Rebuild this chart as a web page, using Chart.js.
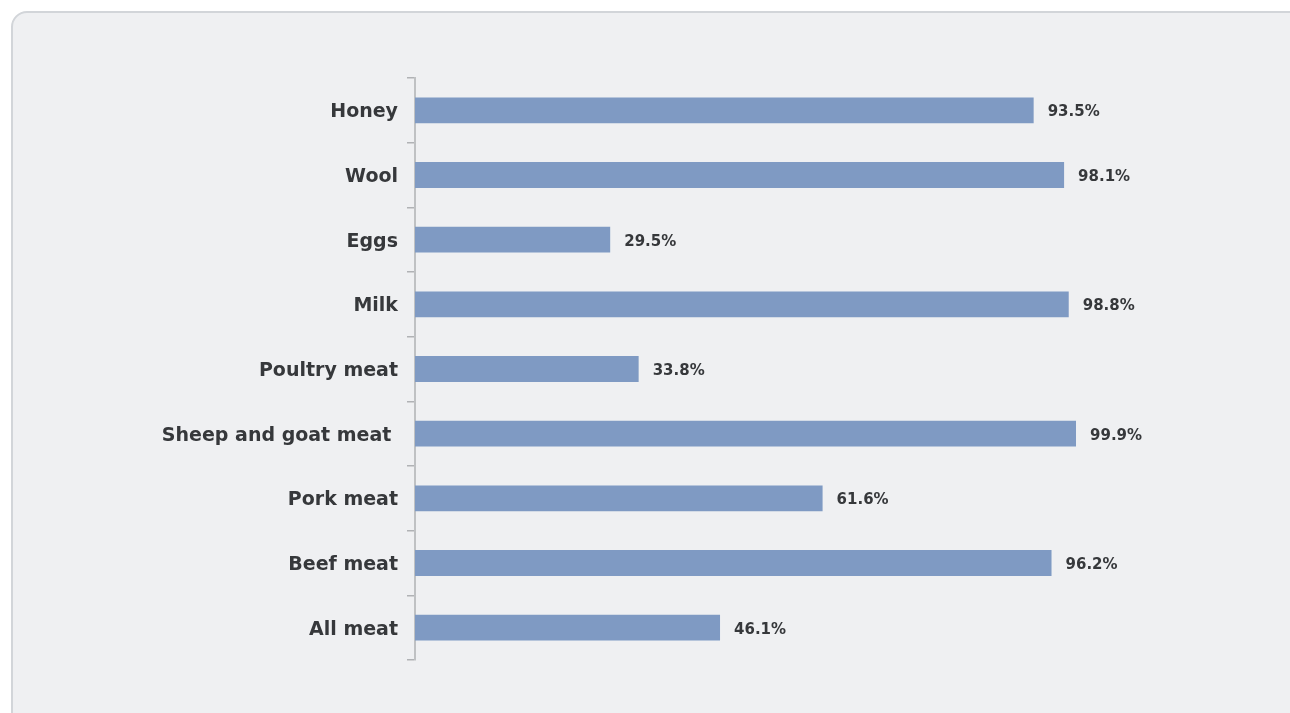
<!DOCTYPE html>
<html>
<head>
<meta charset="utf-8">
<script src="https://cdn.jsdelivr.net/npm/chart.js@4"></script>
<style>
  html, body { margin:0; padding:0; background:#fff; width:1290px; height:713px; overflow:hidden; }
  .panel {
    position:absolute; left:11px; top:11px; width:1300px; height:720px;
    background:#eff0f2; border:2px solid #d2d5d9; border-radius:16px; box-sizing:border-box;
  }
  .wrap { position:absolute; left:0; top:0; width:1290px; height:713px; }
</style>
</head>
<body>
<div class="panel"></div>
<div class="wrap"><canvas id="chart" width="1290" height="713"></canvas></div>
<script>
const categories = ['Honey', 'Wool', 'Eggs', 'Milk', 'Poultry meat', 'Sheep and goat meat ', 'Pork meat', 'Beef meat', 'All meat'];
const shares = [93.5, 98.1, 29.5, 98.8, 33.8, 99.9, 61.6, 96.2, 46.1];

const textColor = '#36383b';

// draw the value label just right of each bar
const valueLabels = {
  id: 'valueLabels',
  afterDatasetsDraw(chart) {
    const ctx = chart.ctx;
    const meta = chart.getDatasetMeta(0);
    ctx.save();
    ctx.font = 'bold 15px "DejaVu Sans"';
    ctx.fillStyle = textColor;
    ctx.textAlign = 'left';
    ctx.textBaseline = 'middle';
    meta.data.forEach((bar, i) => {
      ctx.fillText(shares[i].toFixed(1) + '%', bar.x + 14, bar.y + 2);
    });
    ctx.restore();
  }
};

new Chart(document.getElementById('chart'), {
  type: 'bar',
  data: {
    labels: categories,
    datasets: [{
      data: shares,
      backgroundColor: '#7f9ac3',
      borderWidth: 0,
      categoryPercentage: 1,
      barPercentage: 0.4
    }]
  },
  options: {
    indexAxis: 'y',
    responsive: false,
    animation: false,
    layout: { padding: { left: 0, top: 78, bottom: 53, right: 81 } },
    plugins: { legend: { display: false }, tooltip: { enabled: false } },
    scales: {
      x: { display: false, min: 0, max: 120 },
      y: {
        afterFit(scale) { scale.width = 415; },
        border: { display: true, color: '#bfc1c3', width: 2 },
        grid: { drawOnChartArea: false, drawTicks: true, tickLength: 8, color: '#b0b2b5', lineWidth: 1.5, offset: true },
        ticks: {
          color: textColor,
          padding: 9,
          labelOffset: 2,
          font: { family: '"DejaVu Sans"', weight: 'bold', size: 19 }
        }
      }
    }
  },
  plugins: [valueLabels]
});
</script>
</body>
</html>
